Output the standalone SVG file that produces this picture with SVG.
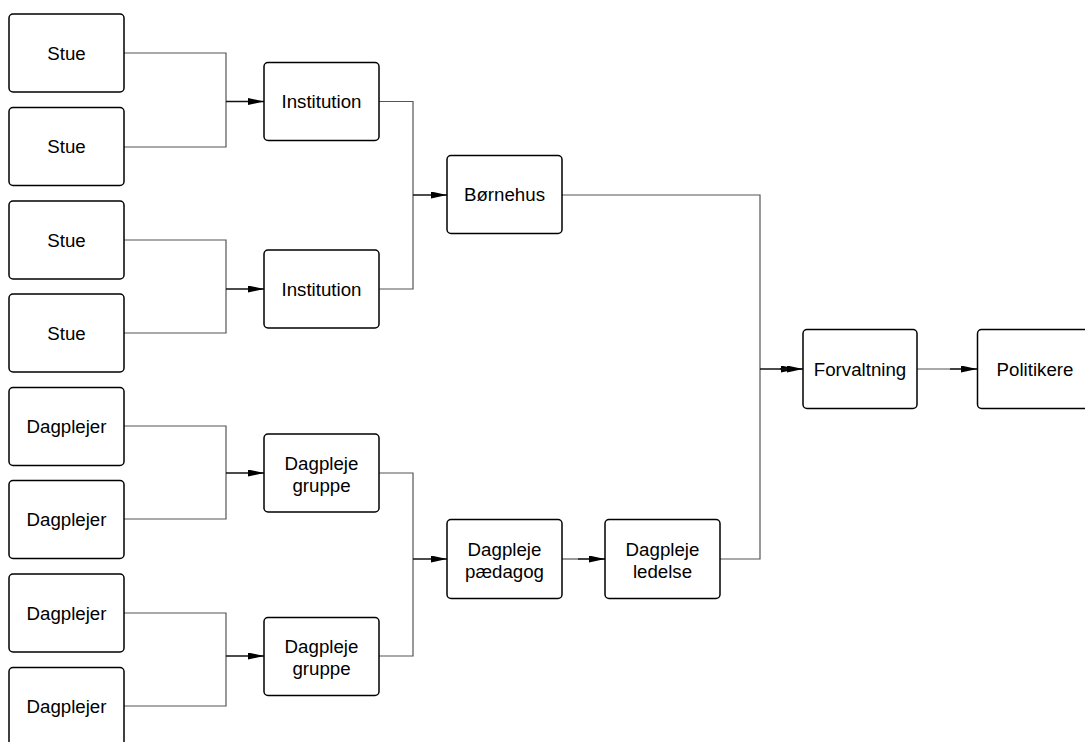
<svg xmlns="http://www.w3.org/2000/svg" width="1085" height="742" viewBox="0 0 1085 742">
<defs>
<marker id="ah" viewBox="0 0 16 7" refX="16" refY="3.5" markerWidth="16" markerHeight="7" markerUnits="userSpaceOnUse" orient="auto">
<path d="M0,0 L16,3.5 L0,7 Z" fill="#000"/>
</marker>
</defs>
<style>
.box{fill:#fff;stroke:#000;stroke-width:1.5}
.lbl{font-family:"Liberation Sans",Arial,sans-serif;font-size:18.7px;fill:#000;text-anchor:middle}
.ln{fill:none;stroke:#555;stroke-width:1.2}
.ar{fill:none;stroke:#111;stroke-width:1.6;marker-end:url(#ah)}
</style>
<rect width="1085" height="742" fill="#fff"/>
<g id="connectors">
<path class="ln" d="M124,53 H226 V147 H124"/>
<path class="ar" d="M226,101.5 H264"/>
<path class="ln" d="M124,240 H226 V333 H124"/>
<path class="ar" d="M226,289 H264"/>
<path class="ln" d="M124,426 H226 V519 H124"/>
<path class="ar" d="M226,473 H264"/>
<path class="ln" d="M124,613 H226 V706 H124"/>
<path class="ar" d="M226,656 H264"/>
<path class="ln" d="M379,101.5 H413 V289 H379"/>
<path class="ar" d="M413,195 H447"/>
<path class="ln" d="M379,473 H413 V656 H379"/>
<path class="ar" d="M413,559 H447"/>
<path class="ln" d="M562,559 H578"/>
<path class="ar" d="M578,559 H605"/>
<path class="ln" d="M562,195 H760 V559 H720"/>
<path class="ar" d="M760,369 H797"/>
<path class="ar" d="M780,369 H803"/>
<path class="ln" d="M917,369 H950"/>
<path class="ar" d="M950,369 H977"/>
</g>
<g id="stue1"><rect class="box" x="9" y="14" width="115" height="78" rx="4"/><text class="lbl" x="66.5" y="59.5">Stue</text></g>
<g id="stue2"><rect class="box" x="9" y="107.5" width="115" height="78" rx="4"/><text class="lbl" x="66.5" y="153">Stue</text></g>
<g id="stue3"><rect class="box" x="9" y="201" width="115" height="78" rx="4"/><text class="lbl" x="66.5" y="246.5">Stue</text></g>
<g id="stue4"><rect class="box" x="9" y="294" width="115" height="78" rx="4"/><text class="lbl" x="66.5" y="339.5">Stue</text></g>
<g id="dagplejer1"><rect class="box" x="9" y="387.5" width="115" height="78" rx="4"/><text class="lbl" x="66.5" y="433">Dagplejer</text></g>
<g id="dagplejer2"><rect class="box" x="9" y="480.5" width="115" height="78" rx="4"/><text class="lbl" x="66.5" y="526">Dagplejer</text></g>
<g id="dagplejer3"><rect class="box" x="9" y="574" width="115" height="78" rx="4"/><text class="lbl" x="66.5" y="619.5">Dagplejer</text></g>
<g id="dagplejer4"><rect class="box" x="9" y="667.5" width="115" height="78" rx="4"/><text class="lbl" x="66.5" y="713">Dagplejer</text></g>
<g id="institution1"><rect class="box" x="264" y="62.5" width="115" height="78" rx="4"/><text class="lbl" x="321.5" y="108">Institution</text></g>
<g id="institution2"><rect class="box" x="264" y="250" width="115" height="78" rx="4"/><text class="lbl" x="321.5" y="295.5">Institution</text></g>
<g id="gruppe1"><rect class="box" x="264" y="434" width="115" height="78" rx="4"/><text class="lbl" x="321.5" y="469.5">Dagpleje</text><text class="lbl" x="321.5" y="491.5">gruppe</text></g>
<g id="gruppe2"><rect class="box" x="264" y="617.5" width="115" height="78" rx="4"/><text class="lbl" x="321.5" y="653">Dagpleje</text><text class="lbl" x="321.5" y="675">gruppe</text></g>
<g id="boernehus"><rect class="box" x="447" y="155.5" width="115" height="78" rx="4"/><text class="lbl" x="504.5" y="201">Børnehus</text></g>
<g id="paedagog"><rect class="box" x="447" y="519.5" width="115" height="79" rx="4"/><text class="lbl" x="504.5" y="555.5">Dagpleje</text><text class="lbl" x="504.5" y="577.5">pædagog</text></g>
<g id="ledelse"><rect class="box" x="605" y="519.5" width="115" height="79" rx="4"/><text class="lbl" x="662.5" y="555.5">Dagpleje</text><text class="lbl" x="662.5" y="577.5">ledelse</text></g>
<g id="forvaltning"><rect class="box" x="803" y="329.5" width="114" height="79" rx="4"/><text class="lbl" x="860" y="375.5">Forvaltning</text></g>
<g id="politikere"><rect class="box" x="977.5" y="329.5" width="115" height="79" rx="4"/><text class="lbl" x="1035" y="375.5">Politikere</text></g>
</svg>
